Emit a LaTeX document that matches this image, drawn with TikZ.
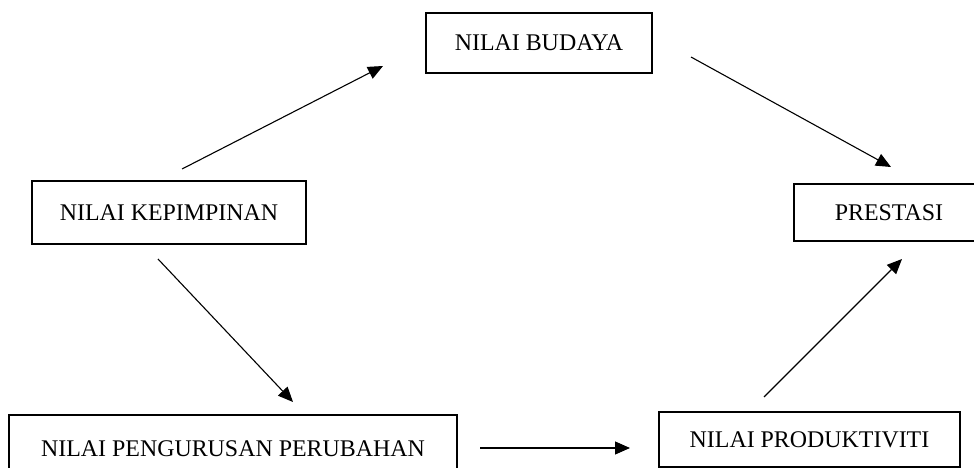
\documentclass[tikz,border=0pt]{standalone}
\usepackage{fontspec}
\setmainfont{Liberation Serif}
\usetikzlibrary{arrows.meta}
\begin{document}
\begin{tikzpicture}[x=1pt,y=-1pt,
  box/.style={draw,line width=2.4pt,inner sep=0pt,font=\fontsize{23.9}{28}\selectfont},
  conn/.style={line width=1.1pt,-{Triangle[length=15pt,width=13pt]}}]
\useasboundingbox (0,0) rectangle (974,468);
\clip (0,0) rectangle (974,468);
\fill[white] (0,0) rectangle (974,468);
\node[box,minimum width=226pt,minimum height=60pt] (budaya) at (539,43) {NILAI BUDAYA};
\node[box,minimum width=274pt,minimum height=63pt] (kepimpinan) at (169,212.5) {NILAI KEPIMPINAN};
\node[box,minimum width=190pt,minimum height=57pt] (prestasi) at (889,212.5) {PRESTASI};
\node[box,minimum width=448pt,minimum height=68pt] (pengurusan) at (233,449) {NILAI PENGURUSAN PERUBAHAN};
\node[box,minimum width=301pt,minimum height=55pt] (produktiviti) at (809.5,439.5) {NILAI PRODUKTIVITI};
\coordinate (a1s) at (182,169); \coordinate (a1e) at (383,66);
\coordinate (a2s) at (691,57);  \coordinate (a2e) at (891,167);
\coordinate (a3s) at (158,259); \coordinate (a3e) at (293,402);
\coordinate (a4s) at (480,448); \coordinate (a4e) at (630,448);
\coordinate (a5s) at (764,397); \coordinate (a5e) at (902,259);
\draw[conn] (a1s) -- (a1e);
\draw[conn] (a2s) -- (a2e);
\draw[conn] (a3s) -- (a3e);
\draw[conn] (a4s) -- (a4e);
\draw[conn] (a5s) -- (a5e);
\end{tikzpicture}
\end{document}
